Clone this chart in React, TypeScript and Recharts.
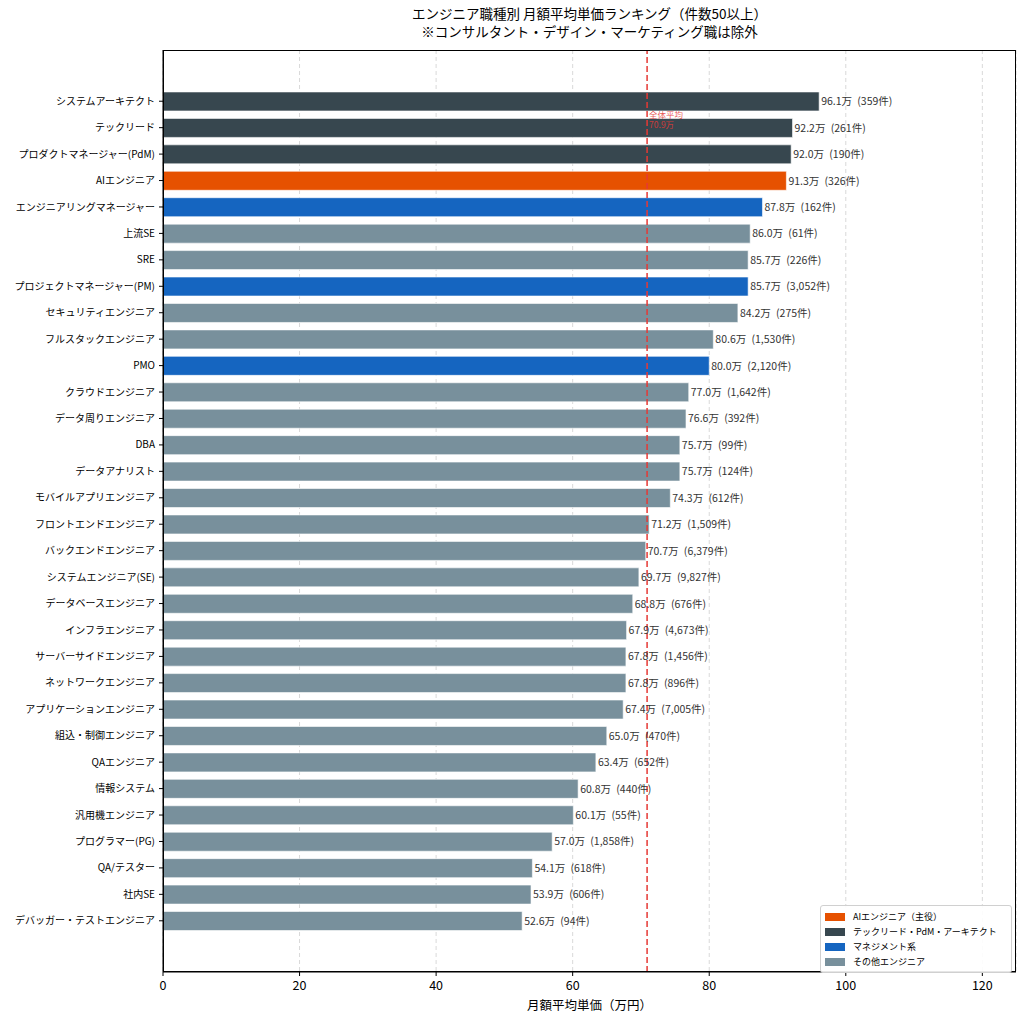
import React from 'react';
import { BarChart, Bar, XAxis, YAxis, CartesianGrid, ReferenceLine, Cell, LabelList } from 'recharts';

const categories = [
  'システムアーキテクト', 'テックリード', 'プロダクトマネージャー(PdM)', 'AIエンジニア', 'エンジニアリングマネージャー',
  '上流SE', 'SRE', 'プロジェクトマネージャー(PM)', 'セキュリティエンジニア', 'フルスタックエンジニア',
  'PMO', 'クラウドエンジニア', 'データ周りエンジニア', 'DBA', 'データアナリスト',
  'モバイルアプリエンジニア', 'フロントエンドエンジニア', 'バックエンドエンジニア', 'システムエンジニア(SE)', 'データベースエンジニア',
  'インフラエンジニア', 'サーバーサイドエンジニア', 'ネットワークエンジニア', 'アプリケーションエンジニア', '組込・制御エンジニア',
  'QAエンジニア', '情報システム', '汎用機エンジニア', 'プログラマー(PG)', 'QA/テスター',
  '社内SE', 'デバッガー・テストエンジニア',
];
const prices = [
  96.1, 92.2, 92.0, 91.3, 87.8,
  86.0, 85.7, 85.7, 84.2, 80.6,
  80.0, 77.0, 76.6, 75.7, 75.7,
  74.3, 71.2, 70.7, 69.7, 68.8,
  67.9, 67.8, 67.8, 67.4, 65.0,
  63.4, 60.8, 60.1, 57.0, 54.1,
  53.9, 52.6,
];
const counts = [
  359, 261, 190, 326, 162,
  61, 226, 3052, 275, 1530,
  2120, 1642, 392, 99, 124,
  612, 1509, 6379, 9827, 676,
  4673, 1456, 896, 7005, 470,
  652, 440, 55, 1858, 618,
  606, 94,
];
// group: 0 = AI, 1 = tech lead/PdM/architect, 2 = management, 3 = other
const groups = [
  1, 1, 1, 0, 2,
  3, 3, 2, 3, 3,
  2, 3, 3, 3, 3,
  3, 3, 3, 3, 3,
  3, 3, 3, 3, 3,
  3, 3, 3, 3, 3,
  3, 3,
];
const groupColors = ['#E65100', '#37474F', '#1565C0', '#78909C'];
const legendLabels = ['AIエンジニア（主役）', 'テックリード・PdM・アーキテクト', 'マネジメント系', 'その他エンジニア'];
const xTicks = [0, 20, 40, 60, 80, 100, 120];
const overallAvg = 70.9;
const xMax = 96.1 * 1.3;

const data = categories.map((name, i) => ({
  name,
  price: prices[i],
  group: groups[i],
  label: `${prices[i].toFixed(1)}万\u2002(${counts[i].toLocaleString('en-US')}件)`,
}));

const FONT = '"Noto Sans CJK JP", "Noto Sans", sans-serif';

const AvgLabel = (props: any) => {
  const vb = props.viewBox || {};
  const x = (vb.x ?? 0) + 2;
  const y = (vb.y ?? 0);
  return (
    <g>
      <text x={x} y={y + 68} fontSize={8.5} fill="#e53935" fillOpacity={0.85} fontFamily={FONT}>全体平均</text>
      <text x={x} y={y + 78} fontSize={8.5} fill="#e53935" fillOpacity={0.85} fontFamily={FONT}>{`${overallAvg.toFixed(1)}万`}</text>
    </g>
  );
};

export default function App() {
  return (
    <div style={{ position: 'absolute', left: 0, top: 0, width: 1024, height: 1020, background: '#fff', fontFamily: FONT }}>
      <div style={{ position: 'absolute', left: 163, width: 853, top: 4, textAlign: 'center', fontSize: 13.5, lineHeight: '18px', color: '#000' }}>
        <div>エンジニア職種別 月額平均単価ランキング（件数50以上）</div>
        <div>※コンサルタント・デザイン・マーケティング職は除外</div>
      </div>
      <BarChart
        width={1024}
        height={1020}
        data={data}
        layout="vertical"
        margin={{ top: 50, right: 8, bottom: 18, left: 0 }}
        barCategoryGap="15%"
      >
        <CartesianGrid horizontal={false} vertical={true} stroke="#d9d9d9" strokeDasharray="4 3" />
        <XAxis
          type="number"
          dataKey="price"
          domain={[0, xMax]}
          ticks={xTicks}
          allowDataOverflow
          height={30}
          tickSize={4}
          tickMargin={5}
          tick={{ fontSize: 12.5, fill: '#000', fontFamily: FONT }}
          tickLine={{ stroke: '#000' }}
          axisLine={{ stroke: '#000' }}
        />
        <YAxis
          type="category"
          dataKey="name"
          width={163}
          interval={0}
          tickSize={4}
          tickMargin={4}
          padding={{ top: 38, bottom: 38 }}
          tick={{ fontSize: 10, fill: '#000', fontFamily: FONT }}
          tickLine={{ stroke: '#000' }}
          axisLine={{ stroke: '#000' }}
        />
        <Bar dataKey="price" isAnimationActive={false} stroke="#ffffff" strokeWidth={0.6}>
          {data.map((d, i) => (
            <Cell key={i} fill={groupColors[d.group]} />
          ))}
          <LabelList dataKey="label" position="right" offset={2} fontSize={10.5} fill="#333" fontFamily={FONT} />
        </Bar>
        <ReferenceLine x={overallAvg} stroke="#e53935" strokeDasharray="6 3" strokeWidth={1.5} label={<AvgLabel />} />
      </BarChart>
      <div style={{ position: 'absolute', left: 163, top: 50, width: 853, height: 922, border: '1px solid #000', boxSizing: 'border-box', pointerEvents: 'none' }} />
      <div style={{ position: 'absolute', left: 163, width: 853, top: 995, textAlign: 'center', fontSize: 12.5, color: '#000' }}>
        月額平均単価（万円）
      </div>
      <div style={{ position: 'absolute', left: 820, top: 905, width: 192, border: '1px solid #d0d0d0', borderRadius: 3, background: 'rgba(255,255,255,0.9)', padding: '3px 0 3px 4px', boxSizing: 'border-box' }}>
        {legendLabels.map((l, i) => (
          <div key={i} style={{ display: 'flex', alignItems: 'center', height: 15, fontSize: 9, color: '#000' }}>
            <span style={{ display: 'inline-block', width: 20, height: 8, background: groupColors[i], marginRight: 8 }} />
            <span>{l}</span>
          </div>
        ))}
      </div>
    </div>
  );
}
